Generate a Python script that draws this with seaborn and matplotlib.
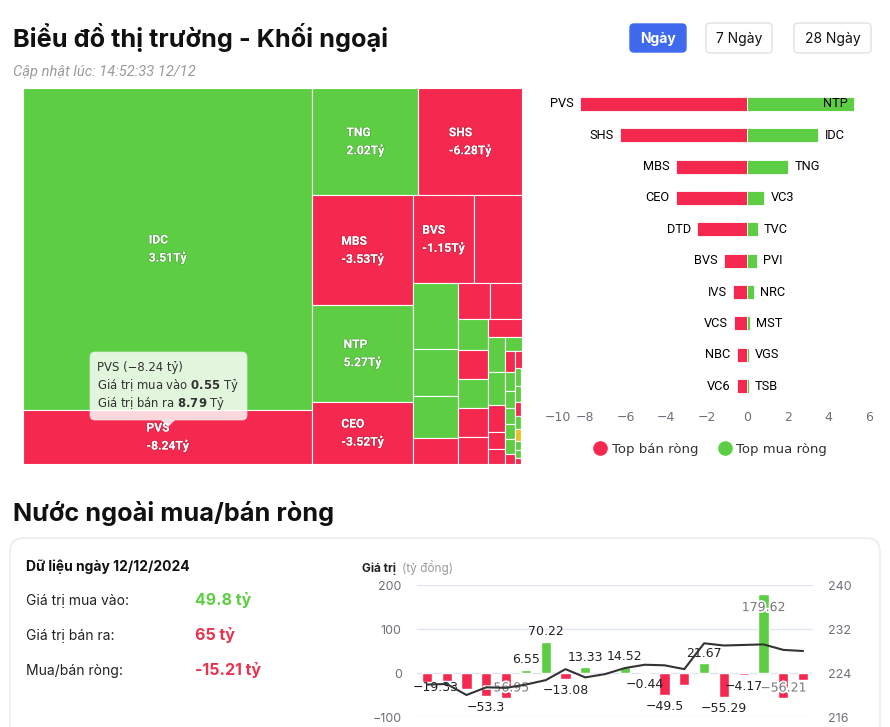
import numpy as np
import matplotlib
matplotlib.use("Agg")
import matplotlib.pyplot as plt
import matplotlib.patheffects as pe
from matplotlib.patches import FancyBboxPatch, Polygon
from matplotlib.lines import Line2D
import seaborn as sns

W, H = 890, 727
RED = "#F5294F"
GREEN = "#5DCE43"
GOLD = "#E6C224"
GREY = "#6E7079"

# Treemap: size = total foreign traded value (tỷ), net = net foreign value (tỷ)
tm_names = ["IDC", "PVS", "TNG", "SHS", "MBS", "NTP", "CEO", "BVS", "DTD",
            "VC3", "TVC", "PVI", "IVS", "VCS", "NBC", "NRC", "VC6", "MST",
            "", "", "", "VGS", "TSB", "", "", "", "", "", "", "", "", "", "",
            "", "", "", "", "", "", "", "", "", "", "", "", ""]
tm_size = [55.69, 9.34, 6.79, 6.66, 6.58, 5.80, 3.71, 3.23, 2.50,
           1.78, 1.27, 1.13, 0.70, 0.69, 0.67, 0.56, 0.52, 0.52,
           0.52, 0.48, 0.37, 0.35, 0.335, 0.27, 0.17, 0.155, 0.145, 0.135,
           0.125, 0.105, 0.105, 0.10, 0.092, 0.066, 0.066, 0.062, 0.057,
           0.05, 0.045, 0.04, 0.03, 0.03, 0.02, 0.02, 0.012, 0.01]
tm_net = [3.51, -8.24, 2.02, -6.28, -3.53, 5.27, -3.52, -1.15, -2.48,
          0.84, 0.53, 0.49, -0.70, -0.66, -0.53, 0.32, -0.52, 0.13,
          -0.30, -0.25, -0.20, 0.08, 0.08, -0.10, -0.08, -0.07, 0.05, -0.06,
          0.05, 0.04, 0.04, 0.03, 0.03, -0.03, -0.02, 0.02, 0.02,
          -0.02, 0.01, 0.0, 0.01, 0.01, -0.01, 0.0, 0.01, -0.01]

# Top net sellers / buyers (tỷ)
sell_names = ["PVS", "SHS", "MBS", "CEO", "DTD", "BVS", "IVS", "VCS", "NBC", "VC6"]
sell_vals = [-8.24, -6.28, -3.53, -3.52, -2.48, -1.15, -0.70, -0.66, -0.53, -0.52]
buy_names = ["NTP", "IDC", "TNG", "VC3", "TVC", "PVI", "NRC", "MST", "VGS", "TSB"]
buy_vals = [5.27, 3.51, 2.02, 0.84, 0.53, 0.49, 0.32, 0.13, 0.08, 0.08]

# Daily net foreign flow (tỷ đồng) and index line (right axis)
flow_vals = [-19.33, -18.5, -35.8, -53.3, -56.95, 6.55, 70.22, -13.08, 13.33, 1.1,
             14.52, -0.44, -49.5, -27.7, 21.67, -55.29, -4.17, 179.62, -56.21, -15.21]
index_vals = [221.9, 222.0, 220.0, 221.4, 221.3, 221.9, 222.7, 224.7, 223.2, 223.8,
              224.9, 225.5, 225.4, 224.7, 229.4, 229.0, 229.1, 229.2, 228.2, 228.0]
shown_labels = [0, 3, 4, 5, 6, 7, 8, 10, 11, 12, 14, 15, 16, 17, 18]

summary_labels = ["Giá trị mua vào:", "Giá trị bán ra:", "Mua/bán ròng:"]
summary_values = ["49.8 tỷ", "65 tỷ", "-15.21 tỷ"]


def box(x0, y0, x1, y1):
    return [x0 / W, 1 - y1 / H, (x1 - x0) / W, (y1 - y0) / H]


def squarified(sizes, width, height):
    # squarified layout with alternating direction (Highcharts style)
    total = sum(sizes)
    areas = [s / total * width * height for s in sizes]
    st = dict(w=width, h=height, d=0, el=[], tot=0.0, nW=0.0, lW=0.0,
              nH=0.0, lH=0.0, lR=np.nan, nR=np.nan, x=0.0, y=0.0)
    rects = []

    def ratio(a, b):
        return max(a / b, b / a)

    def add(a):
        prev = st["el"][-1] if st["el"] else None
        st["tot"] += a
        if st["d"] == 0:
            st["lW"] = st["nW"]
            st["nW"] = st["tot"] / st["h"]
            if prev is None:
                st["lR"] = st["nR"] = np.nan
            else:
                st["lR"] = ratio(st["lW"], prev / st["lW"])
                st["nR"] = ratio(st["nW"], prev / st["nW"])
        else:
            st["lH"] = st["nH"]
            st["nH"] = st["tot"] / st["w"]
            if prev is None:
                st["lR"] = st["nR"] = np.nan
            else:
                st["lR"] = ratio(prev / st["lH"], st["lH"])
                st["nR"] = ratio(prev / st["nH"], st["nH"])
        st["el"].append(a)

    def flush(last):
        if last:
            gw, gh = st["nW"], st["nH"]
            els = st["el"]
        else:
            gw, gh = st["lW"], st["lH"]
            keep = st["el"][-1]
            els = st["el"][:-1]
        for a in els:
            if st["d"] == 0:
                rects.append((st["x"], st["y"], gw, a / gw))
                st["y"] += a / gw
            else:
                rects.append((st["x"], st["y"], a / gh, gh))
                st["x"] += a / gh
        st["el"], st["tot"], st["nW"], st["lW"] = [], 0.0, 0.0, 0.0
        if st["d"] == 0:
            st["w"] -= gw
        else:
            st["h"] -= gh
        st["x"], st["y"] = width - st["w"], height - st["h"]
        st["d"] = 1 - st["d"]
        if not last:
            add(keep)

    for i, a in enumerate(areas):
        add(a)
        if st["nR"] > st["lR"]:
            flush(False)
        if i == len(areas) - 1:
            flush(True)
    return rects


sns.set_theme(style="white")
plt.rcParams["font.family"] = ["Inter", "DejaVu Sans"]
plt.rcParams["axes.unicode_minus"] = True

fig = plt.figure(figsize=(W / 100, H / 100), dpi=100)
fig.patch.set_facecolor("white")

# background overlay in pixel coordinates
bg = fig.add_axes([0, 0, 1, 1], zorder=0)
bg.set_xlim(0, W)
bg.set_ylim(H, 0)
bg.axis("off")

bg.text(13, 47, "Biểu đồ thị trường - Khối ngoại", fontsize=18.2, fontweight="bold",
        color="#111111", va="baseline")
bg.text(13, 76, "Cập nhật lúc: 14:52:33 12/12", fontsize=10.5, style="italic",
        color="#9B9B9B", va="baseline", family=["Roboto", "DejaVu Sans"])

for (x0, y0, bw, bh, lab, on) in [(630, 24, 56, 28, "Ngày", True),
                                   (706, 23, 66, 30, "7 Ngày", False),
                                   (794, 23, 77, 30, "28 Ngày", False)]:
    bg.add_patch(FancyBboxPatch((x0, y0), bw, bh, boxstyle="round,pad=0,rounding_size=4",
                                fc="#3F6AEE" if on else "white",
                                ec="#3F6AEE" if on else "#E2E2E2", lw=1))
    bg.text(x0 + bw / 2, y0 + bh / 2 + 1, lab, ha="center", va="center", fontsize=10,
            color="white" if on else "#111111", fontweight="bold" if on else "normal")

bg.text(13, 521, "Nước ngoài mua/bán ròng", fontsize=18.2, fontweight="bold",
        color="#111111", va="baseline")

bg.add_patch(FancyBboxPatch((10, 538), 870, 230, boxstyle="round,pad=0,rounding_size=14",
                            fc="white", ec="#EDEDED", lw=1.2))
bg.text(26, 571, "Dữ liệu ngày 12/12/2024", fontsize=10, fontweight="bold",
        color="#111111", va="baseline")
val_colors = [GREEN, "#E8334F", "#E8334F"]
for k, (lab, val) in enumerate(zip(summary_labels, summary_values)):
    yb = 605 + 35 * k
    bg.text(26, yb, lab, fontsize=10, color="#222222", va="baseline")
    bg.text(195, yb, val, fontsize=11.5, fontweight="bold", color=val_colors[k],
            va="baseline")

bg.text(362, 572, "Giá trị", fontsize=8.5, fontweight="bold", color="#222222",
        va="baseline")
bg.text(402, 572, "(tỷ đồng)", fontsize=8.5, color="#9A9A9A", va="baseline")

# ---- treemap ----
TX0, TY0, TX1, TY1 = 23, 88, 522, 464
axt = fig.add_axes(box(TX0, TY0, TX1, TY1), zorder=1)
tw, th = TX1 - TX0, TY1 - TY0
rects = squarified(tm_size, tw, th)
cols = [GREEN if v > 0 else (RED if v < 0 else GOLD) for v in tm_net]
axt.bar([r[0] for r in rects], [r[3] for r in rects], width=[r[2] for r in rects],
        bottom=[r[1] for r in rects], align="edge", color=cols, edgecolor="white",
        linewidth=0.8)
axt.set_xlim(0, tw)
axt.set_ylim(th, 0)
axt.axis("off")
for (x, y, w, h), name, net in zip(rects, tm_names, tm_net):
    if w > 55 and h > 40:
        axt.text(x + w / 2, y + h / 2, f"{name}\n{net:.2f}Tỷ", ha="center", va="center",
                 multialignment="left", color="white", fontsize=8.7, fontweight="bold",
                 linespacing=1.35, family=["Roboto", "DejaVu Sans"],
                 path_effects=[pe.withStroke(linewidth=1, foreground="#00000030")])

# ---- top net sellers / buyers ----
axb = fig.add_axes(box(544.5, 88.3, 869, 401.7), zorder=1)
rank = [str(i) for i in range(len(sell_vals))]
sns.barplot(x=sell_vals, y=rank, orient="h", color=RED, saturation=1, width=0.45,
            errorbar=None, edgecolor="white", linewidth=0.6, ax=axb)
sns.barplot(x=buy_vals, y=rank, orient="h", color=GREEN, saturation=1, width=0.45,
            errorbar=None, edgecolor="white", linewidth=0.6, ax=axb)
axb.set_xlim(-10, 6)
axb.set_xticks(range(-10, 7, 2))
axb.set_yticks([])
axb.set_xlabel("")
axb.set_ylabel("")
for s in axb.spines.values():
    s.set_visible(False)
axb.tick_params(axis="x", length=0, pad=7, labelsize=9, labelcolor=GREY)
for t in axb.get_xticklabels():
    t.set_family(["DejaVu Sans"])
axb.get_xticklabels()[0].set_ha("left")
lab_kw = dict(va="center", fontsize=9.2, color="#000000", family=["Roboto", "DejaVu Sans"])
for i in range(len(sell_vals)):
    axb.text(sell_vals[i] - 0.3, i, sell_names[i], ha="right", **lab_kw)
    if buy_vals[i] + 1.4 > 6:
        axb.text(buy_vals[i] - 0.3, i, buy_names[i], ha="right", **lab_kw)
    else:
        axb.text(buy_vals[i] + 0.3, i, buy_names[i], ha="left", **lab_kw)
handles = [Line2D([], [], marker="o", ls="", color=RED, markersize=9.5, label="Top bán ròng"),
           Line2D([], [], marker="o", ls="", color=GREEN, markersize=9.5, label="Top mua ròng")]
fig.legend(handles=handles, loc="center", bbox_to_anchor=(709 / W, 1 - 449 / H), ncol=2,
           frameon=False, handletextpad=0.2, columnspacing=1.3, handlelength=1.4,
           prop={"family": "DejaVu Sans", "size": 9.5}, labelcolor="#333333")

# ---- daily net flow chart ----
axc = fig.add_axes(box(417, 585, 813, 717), zorder=2)
axc.patch.set_alpha(0)
days = list(range(len(flow_vals)))
sign = ["mua" if v >= 0 else "ban" for v in flow_vals]
sns.barplot(x=days, y=flow_vals, hue=sign, palette={"mua": GREEN, "ban": RED},
            dodge=False, width=0.52, saturation=1, errorbar=None, legend=False, ax=axc)
axc.set_xlim(-0.5, len(flow_vals) - 0.5)
axc.set_ylim(-100, 200)
axc.set_yticks([-100, 0, 100, 200])
axc.set_xticks([])
axc.set_xlabel("")
axc.set_ylabel("")
axc.yaxis.grid(True, color="#E0E6F1", linewidth=1)
axc.set_axisbelow(True)
for s in axc.spines.values():
    s.set_visible(False)
axc.tick_params(axis="y", length=0, pad=11, labelsize=9, labelcolor=GREY)

axr = axc.twinx()
sns.lineplot(x=days, y=index_vals, color="#333333", linewidth=1.5, ax=axr)
axr.set_ylim(216, 240)
axr.set_yticks([216, 224, 232, 240])
axr.set_ylabel("")
for s in axr.spines.values():
    s.set_visible(False)
axr.tick_params(axis="y", length=0, pad=11, labelsize=9, labelcolor=GREY)

inside = {4: 23, 17: -31, 18: 22}
for i in shown_labels:
    v = flow_vals[i]
    txt = f"{v:g}".replace("-", "\u2212")
    if i in inside:
        axc.text(i, v + inside[i], txt, ha="center", va="center", fontsize=9,
                 color="#7A7A7A", zorder=5, family=["DejaVu Sans"],
                 path_effects=[pe.withStroke(linewidth=2.5, foreground="white")])
    else:
        ly = v + 23 if v >= 0 else v - 26
        if i == 0:
            ly = v - 13
        axc.text(i + (0.45 if i == 0 else 0), ly, txt, ha="center", va="center",
                 fontsize=9, color="#222222", zorder=5, family=["DejaVu Sans"])

# ---- tooltip overlay ----
top = fig.add_axes([0, 0, 1, 1], zorder=10)
top.set_xlim(0, W)
top.set_ylim(H, 0)
top.axis("off")
top.add_patch(FancyBboxPatch((90, 352), 157, 68, boxstyle="round,pad=0,rounding_size=5",
                             fc="white", ec="#E5E5E5", lw=0.6, alpha=0.82))
top.add_patch(Polygon([(161, 420), (175, 420), (168, 427)], closed=True, fc="white",
                      ec="none", alpha=0.82))
tip = ["PVS (\u22128.24 tỷ)", r"Giá trị mua vào $\mathbf{0.55}$ Tỷ",
       r"Giá trị bán ra $\mathbf{8.79}$ Tỷ"]
for k, line in enumerate(tip):
    top.text(97, 367 + 18 * k, line, fontsize=8.4, color="#333333", va="center",
             family=["DejaVu Sans"])

fig.savefig("out.png", dpi=100)
